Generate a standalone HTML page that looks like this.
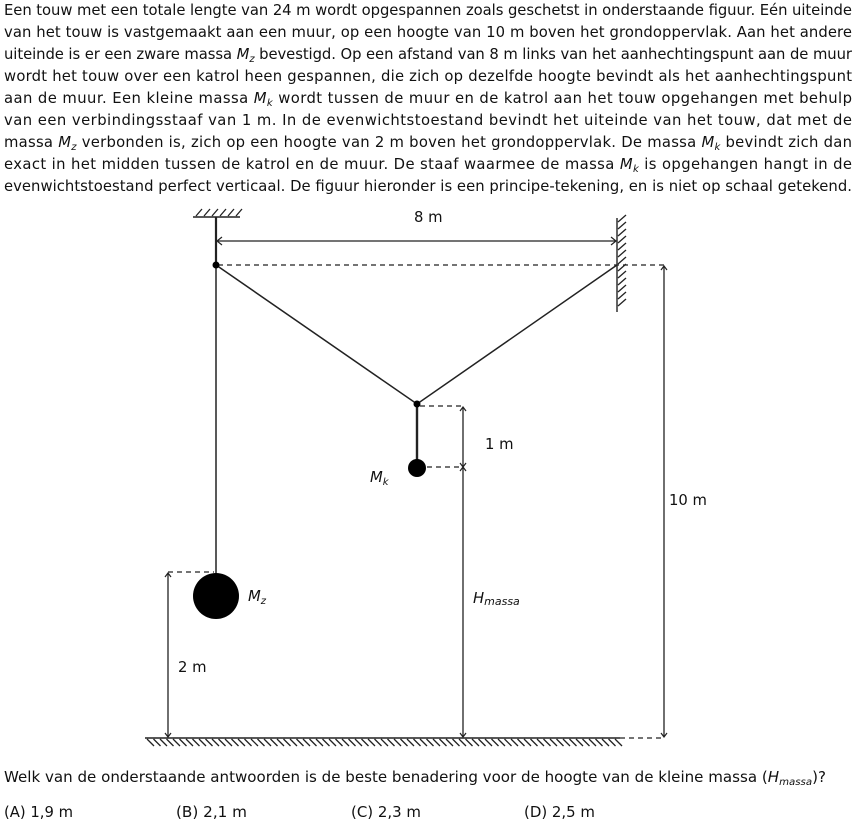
<!DOCTYPE html>
<html><head><meta charset="utf-8"><style>
html,body{margin:0;padding:0;background:#fff;}
svg{display:block;}
text{font-family:"DejaVu Sans","Liberation Sans",sans-serif;fill:#111;}
</style></head><body>
<svg id="s" width="856" height="827" viewBox="0 0 856 827" xmlns="http://www.w3.org/2000/svg">
<g font-size="14.8">
<text x="4" y="15" textLength="848" lengthAdjust="spacing">Een touw met een totale lengte van 24 m wordt opgespannen zoals geschetst in onderstaande figuur. Eén uiteinde</text>
<text x="4" y="37" textLength="848" lengthAdjust="spacing">van het touw is vastgemaakt aan een muur, op een hoogte van 10 m boven het grondoppervlak. Aan het andere</text>
<text x="4" y="59" textLength="848" lengthAdjust="spacing">uiteinde is er een zware massa <tspan font-style="italic">M</tspan><tspan font-style="italic" font-size="10" dy="3">z</tspan><tspan dy="-3"> bevestigd. Op een afstand van 8 m links van het aanhechtingspunt aan de muur</tspan></text>
<text x="4" y="81" textLength="848" lengthAdjust="spacing">wordt het touw over een katrol heen gespannen, die zich op dezelfde hoogte bevindt als het aanhechtingspunt</text>
<text x="4" y="103" textLength="848" lengthAdjust="spacing">aan de muur.  Een kleine massa <tspan font-style="italic">M</tspan><tspan font-style="italic" font-size="10" dy="3">k</tspan><tspan dy="-3"> wordt tussen de muur en de katrol aan het touw opgehangen met behulp</tspan></text>
<text x="4" y="125" textLength="848" lengthAdjust="spacing">van een verbindingsstaaf van 1 m.  In de evenwichtstoestand bevindt het uiteinde van het touw, dat met de</text>
<text x="4" y="147" textLength="848" lengthAdjust="spacing">massa <tspan font-style="italic">M</tspan><tspan font-style="italic" font-size="10" dy="3">z</tspan><tspan dy="-3"> verbonden is, zich op een hoogte van 2 m boven het grondoppervlak. De massa </tspan><tspan font-style="italic">M</tspan><tspan font-style="italic" font-size="10" dy="3">k</tspan><tspan dy="-3"> bevindt zich dan</tspan></text>
<text x="4" y="169" textLength="848" lengthAdjust="spacing">exact in het midden tussen de katrol en de muur.  De staaf waarmee de massa <tspan font-style="italic">M</tspan><tspan font-style="italic" font-size="10" dy="3">k</tspan><tspan dy="-3"> is opgehangen hangt in de</tspan></text>
<text x="4" y="191" textLength="848" lengthAdjust="spacing">evenwichtstoestand perfect verticaal. De figuur hieronder is een principe-tekening, en is niet op schaal getekend.</text>
</g>
<g id="hatches" stroke="#222" stroke-width="1.3"></g>
<g stroke="#222" fill="none">
<line x1="193" y1="217" x2="240" y2="217" stroke-width="1.4"/>
<line x1="216" y1="217" x2="216" y2="265" stroke-width="2.2"/>
<line x1="218" y1="241" x2="615" y2="241" stroke-width="1.3"/>
<path d="M222 237 L217 241 L222 245 M611 237 L616 241 L611 245" stroke-width="1.2"/>
<line x1="617" y1="218" x2="617" y2="312" stroke-width="1.4"/>
<line x1="218" y1="265" x2="665" y2="265" stroke-dasharray="5,4" stroke-width="1.2"/>
<polyline points="216,265 417,404 617,265" stroke-width="1.5"/>
<line x1="216" y1="265" x2="216" y2="574" stroke-width="1.5"/>
<line x1="417" y1="404" x2="417" y2="462" stroke-width="2.4"/>
<line x1="420" y1="406" x2="463" y2="406" stroke-dasharray="5,4" stroke-width="1.2"/>
<line x1="427" y1="467" x2="463" y2="467" stroke-dasharray="5,4" stroke-width="1.2"/>
<line x1="463" y1="407" x2="463" y2="737" stroke-width="1.3"/>
<path d="M460 411 L463 407 L466 411 M460 463 L463 467 L466 463 M460 471 L463 467 L466 471 M460 733 L463 737 L466 733" stroke-width="1.2"/>
<line x1="168" y1="572" x2="214" y2="572" stroke-dasharray="5,4" stroke-width="1.2"/>
<line x1="168" y1="573" x2="168" y2="737" stroke-width="1.3"/>
<path d="M165 577 L168 573 L171 577 M165 733 L168 737 L171 733" stroke-width="1.2"/>
<line x1="664" y1="266" x2="664" y2="737" stroke-width="1.3"/>
<path d="M661 270 L664 266 L667 270 M661 733 L664 737 L667 733" stroke-width="1.2"/>
<line x1="145" y1="738" x2="620" y2="738" stroke-width="1.5"/>
<line x1="620" y1="738" x2="665" y2="738" stroke-dasharray="5,4" stroke-width="1.2"/>
</g>
<circle cx="216" cy="265" r="3.5" fill="#000"/>
<circle cx="417" cy="404" r="3.5" fill="#000"/>
<circle cx="417" cy="468" r="9" fill="#000"/>
<circle cx="216" cy="596" r="23" fill="#000"/>
<g font-size="14.8">
<text x="414" y="222">8 m</text>
<text x="485" y="449">1 m</text>
<text x="370" y="482" font-style="italic">M<tspan font-size="10" dy="3">k</tspan></text>
<text x="669" y="505">10 m</text>
<text x="248" y="601" font-style="italic">M<tspan font-size="10" dy="3">z</tspan></text>
<text x="473" y="603" font-style="italic">H<tspan font-size="11" dy="2">massa</tspan></text>
<text x="178" y="672">2 m</text>
<text x="4" y="782" textLength="822" lengthAdjust="spacingAndGlyphs">Welk van de onderstaande antwoorden is de beste benadering voor de hoogte van de kleine massa (<tspan font-style="italic">H</tspan><tspan font-style="italic" font-size="10" dy="3">massa</tspan><tspan dy="-3">)?</tspan></text>
<text x="4" y="817" textLength="69" lengthAdjust="spacingAndGlyphs">(A) 1,9 m</text>
<text x="176" y="817" textLength="71" lengthAdjust="spacingAndGlyphs">(B) 2,1 m</text>
<text x="351" y="817" textLength="70" lengthAdjust="spacingAndGlyphs">(C) 2,3 m</text>
<text x="524" y="817" textLength="71" lengthAdjust="spacingAndGlyphs">(D) 2,5 m</text>
</g>
</svg>
<script>
var g=document.getElementById('hatches');
function ln(x1,y1,x2,y2){var l=document.createElementNS('http://www.w3.org/2000/svg','line');l.setAttribute('x1',x1);l.setAttribute('y1',y1);l.setAttribute('x2',x2);l.setAttribute('y2',y2);


g.appendChild(l);}
for(var x=196;x<=240;x+=8)ln(x,216,x+6,209);
for(var y=222;y<=312;y+=7)ln(618,y,626,y-7);
for(var x=147;x<=615;x+=6.5)ln(x,739,x+7,746);
</script>
</body></html>
